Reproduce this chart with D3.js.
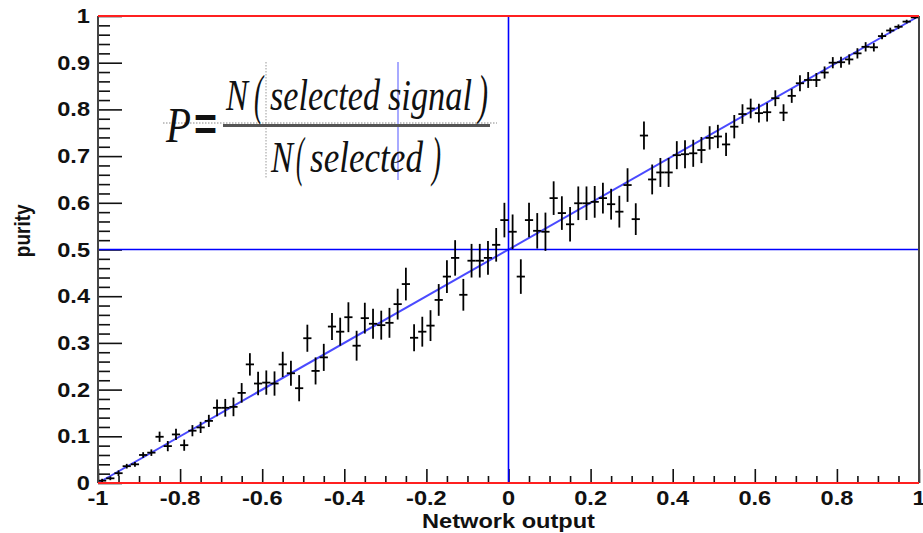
<!DOCTYPE html>
<html>
<head>
<meta charset="utf-8">
<script src="https://cdn.jsdelivr.net/npm/d3@7"></script>
<style>
  html, body { margin: 0; padding: 0; background: #fff; }
  svg { display: block; }
</style>
</head>
<body>
<svg id="chart" width="923" height="533"></svg>
<script>
// Bin centres of the network output histogram (100 bins over [-1, 1])
const binCenters = [
  -0.99, -0.97, -0.95, -0.93, -0.91, -0.89, -0.87, -0.85, -0.83, -0.81,
  -0.79, -0.77, -0.75, -0.73, -0.71, -0.69, -0.67, -0.65, -0.63, -0.61,
  -0.59, -0.57, -0.55, -0.53, -0.51, -0.49, -0.47, -0.45, -0.43, -0.41,
  -0.39, -0.37, -0.35, -0.33, -0.31, -0.29, -0.27, -0.25, -0.23, -0.21,
  -0.19, -0.17, -0.15, -0.13, -0.11, -0.09, -0.07, -0.05, -0.03, -0.01,
   0.01,  0.03,  0.05,  0.07,  0.09,  0.11,  0.13,  0.15,  0.17,  0.19,
   0.21,  0.23,  0.25,  0.27,  0.29,  0.31,  0.33,  0.35,  0.37,  0.39,
   0.41,  0.43,  0.45,  0.47,  0.49,  0.51,  0.53,  0.55,  0.57,  0.59,
   0.61,  0.63,  0.65,  0.67,  0.69,  0.71,  0.73,  0.75,  0.77,  0.79,
   0.81,  0.83,  0.85,  0.87,  0.89,  0.91,  0.93,  0.95,  0.97,  0.99
];
const binWidth = 0.02;

// Purity measured in each bin
const purity = [
  0.005, 0.010, 0.021, 0.036, 0.040, 0.060, 0.065, 0.099, 0.079, 0.104,
  0.081, 0.112, 0.119, 0.133, 0.161, 0.161, 0.163, 0.193, 0.254, 0.213,
  0.215, 0.213, 0.254, 0.235, 0.203, 0.310, 0.240, 0.269, 0.335, 0.324,
  0.355, 0.294, 0.353, 0.341, 0.338, 0.343, 0.383, 0.426, 0.311, 0.324,
  0.337, 0.392, 0.442, 0.482, 0.403, 0.476, 0.476, 0.482, 0.510, 0.563,
  0.538, 0.442, 0.563, 0.540, 0.538, 0.610, 0.578, 0.554, 0.599, 0.599,
  0.602, 0.610, 0.597, 0.581, 0.638, 0.565, 0.744, 0.650, 0.665, 0.665,
  0.702, 0.704, 0.706, 0.713, 0.739, 0.742, 0.725, 0.763, 0.790, 0.802,
  0.792, 0.794, 0.824, 0.793, 0.829, 0.856, 0.863, 0.863, 0.879, 0.900,
  0.901, 0.907, 0.920, 0.934, 0.933, 0.957, 0.969, 0.977, 0.988, 0.997
];

// Statistical uncertainty on the purity of each bin
const purityErr = [
  0.004, 0.004, 0.006, 0.005, 0.005, 0.006, 0.007, 0.011, 0.011, 0.012,
  0.012, 0.012, 0.012, 0.013, 0.018, 0.019, 0.020, 0.021, 0.024, 0.025,
  0.026, 0.026, 0.027, 0.027, 0.028, 0.029, 0.029, 0.029, 0.029, 0.030,
  0.032, 0.032, 0.033, 0.032, 0.031, 0.032, 0.033, 0.035, 0.029, 0.032,
  0.033, 0.034, 0.035, 0.038, 0.034, 0.036, 0.036, 0.036, 0.036, 0.037,
  0.037, 0.037, 0.037, 0.038, 0.041, 0.036, 0.036, 0.037, 0.036, 0.036,
  0.034, 0.033, 0.033, 0.034, 0.036, 0.034, 0.030, 0.032, 0.031, 0.031,
  0.030, 0.030, 0.029, 0.028, 0.025, 0.025, 0.025, 0.025, 0.021, 0.021,
  0.020, 0.020, 0.017, 0.018, 0.015, 0.017, 0.017, 0.015, 0.013, 0.012,
  0.012, 0.011, 0.011, 0.010, 0.009, 0.007, 0.006, 0.005, 0.004, 0.003
];

// Axis ticks and labels
const xMajorTicks = [-1, -0.8, -0.6, -0.4, -0.2, 0, 0.2, 0.4, 0.6, 0.8, 1];
const xTickLabels = ["-1", "-0.8", "-0.6", "-0.4", "-0.2", "0", "0.2", "0.4", "0.6", "0.8", "1"];
const xMinorStep = 0.05;
const yMajorTicks = [0, 0.1, 0.2, 0.3, 0.4, 0.5, 0.6, 0.7, 0.8, 0.9, 1];
const yTickLabels = ["0", "0.1", "0.2", "0.3", "0.4", "0.5", "0.6", "0.7", "0.8", "0.9", "1"];
const yMinorStep = 0.02;

// Reference lines: ideal purity diagonal, cut at output 0, purity 0.5
const diagonal = [[-1, 0], [1, 1]];
const cutX = 0;
const cutY = 0.5;

const xTitle = "Network output";
const yTitle = "purity";

// ---- layout ----
const svg = d3.select("#chart");
const W = 923, H = 533;
const margin = { left: 98, right: 4, top: 16, bottom: 50 };
const plotW = W - margin.left - margin.right;
const plotH = H - margin.top - margin.bottom;

const x = d3.scaleLinear().domain([-1, 1]).range([margin.left, margin.left + plotW]);
const y = d3.scaleLinear().domain([0, 1]).range([margin.top + plotH, margin.top]);

const labelFont = "'Liberation Sans', Arial, sans-serif";
const stretch = 1.18; // tick labels are drawn slightly wide

// ---- ticks (drawn inward) ----
const xMinor = d3.range(-1, 1.0001, xMinorStep).filter(v => !xMajorTicks.some(m => Math.abs(m - v) < 1e-6));
const yMinor = d3.range(0, 1.0001, yMinorStep).filter(v => !yMajorTicks.some(m => Math.abs(m - v) < 1e-6));

function styleTicks(g) {
  g.select(".domain").remove();
  g.selectAll(".tick line").attr("stroke", "#111").attr("stroke-width", 1.6);
  g.selectAll(".tick text").remove();
}

svg.append("g")
  .attr("transform", `translate(0,${y(0)})`)
  .call(d3.axisBottom(x).tickValues(xMinor).tickSize(-7).tickFormat(""))
  .call(styleTicks);
svg.append("g")
  .attr("transform", `translate(0,${y(0)})`)
  .call(d3.axisBottom(x).tickValues(xMajorTicks).tickSize(-14).tickFormat(""))
  .call(styleTicks);
svg.append("g")
  .attr("transform", `translate(${x(-1)},0)`)
  .call(d3.axisLeft(y).tickValues(yMinor).tickSize(-12).tickFormat(""))
  .call(styleTicks);
svg.append("g")
  .attr("transform", `translate(${x(-1)},0)`)
  .call(d3.axisLeft(y).tickValues(yMajorTicks).tickSize(-24).tickFormat(""))
  .call(styleTicks);

// ---- tick labels ----
svg.append("g").selectAll("text")
  .data(xMajorTicks)
  .join("text")
  .attr("transform", d => `translate(${x(d)},${y(0) + 22}) scale(${stretch},1)`)
  .attr("text-anchor", "middle")
  .attr("font-family", labelFont)
  .attr("font-weight", "bold")
  .attr("font-size", 20)
  .attr("fill", "#111")
  .text((d, i) => xTickLabels[i]);

svg.append("g").selectAll("text")
  .data(yMajorTicks)
  .join("text")
  .attr("transform", d => `translate(${x(-1) - 8},${y(d) + 7}) scale(${stretch},1)`)
  .attr("text-anchor", "end")
  .attr("font-family", labelFont)
  .attr("font-weight", "bold")
  .attr("font-size", 20)
  .attr("fill", "#111")
  .text((d, i) => yTickLabels[i]);

// ---- axis titles ----
svg.append("text")
  .attr("transform", `translate(${x(0)},${y(0) + 45}) scale(${stretch},1)`)
  .attr("text-anchor", "middle")
  .attr("font-family", labelFont)
  .attr("font-weight", "bold")
  .attr("font-size", 20)
  .attr("fill", "#111")
  .text(xTitle);

svg.append("text")
  .attr("transform", `translate(30,${y(0.54)}) rotate(-90) scale(1,${stretch})`)
  .attr("text-anchor", "middle")
  .attr("font-family", labelFont)
  .attr("font-weight", "bold")
  .attr("font-size", 19)
  .attr("fill", "#111")
  .text(yTitle);

// ---- reference lines ----
svg.append("line")
  .attr("x1", x(diagonal[0][0])).attr("y1", y(diagonal[0][1]))
  .attr("x2", x(diagonal[1][0])).attr("y2", y(diagonal[1][1]))
  .attr("stroke", "#4a4aff").attr("stroke-width", 2);

svg.append("line")
  .attr("x1", x(cutX)).attr("x2", x(cutX))
  .attr("y1", y(0)).attr("y2", y(1))
  .attr("stroke", "#0000ff").attr("stroke-width", 1.6);

svg.append("line")
  .attr("x1", x(-1)).attr("x2", x(1))
  .attr("y1", y(cutY)).attr("y2", y(cutY))
  .attr("stroke", "#0000ff").attr("stroke-width", 1.6);

// ---- data points with error bars ----
const points = binCenters.map((c, i) => ({ c, p: purity[i], e: purityErr[i] }));
const pts = svg.append("g").attr("stroke", "#000").attr("stroke-width", 1.8);
pts.selectAll("line.h")
  .data(points)
  .join("line")
  .attr("class", "h")
  .attr("x1", d => x(d.c - binWidth / 2))
  .attr("x2", d => x(d.c + binWidth / 2))
  .attr("y1", d => y(d.p))
  .attr("y2", d => y(d.p));
pts.selectAll("line.v")
  .data(points)
  .join("line")
  .attr("class", "v")
  .attr("x1", d => x(d.c))
  .attr("x2", d => x(d.c))
  .attr("y1", d => y(d.p - d.e))
  .attr("y2", d => y(d.p + d.e));

// ---- frame ----
const frame = svg.append("g");
frame.append("line")
  .attr("x1", x(-1)).attr("x2", x(-1)).attr("y1", y(0)).attr("y2", y(1))
  .attr("stroke", "#444").attr("stroke-width", 2);
frame.append("line")
  .attr("x1", x(1)).attr("x2", x(1)).attr("y1", y(0)).attr("y2", y(1))
  .attr("stroke", "#444").attr("stroke-width", 2);
frame.append("line")
  .attr("x1", x(-1)).attr("x2", x(1)).attr("y1", y(1)).attr("y2", y(1))
  .attr("stroke", "#ff2020").attr("stroke-width", 2);
frame.append("line")
  .attr("x1", x(-1)).attr("x2", x(1)).attr("y1", y(0)).attr("y2", y(0))
  .attr("stroke", "#ff2020").attr("stroke-width", 2);

// ---- purity definition ----
const eq = svg.append("g").attr("fill", "#111")
  .attr("font-family", "'Liberation Serif', 'Times New Roman', serif")
  .attr("font-style", "italic");

// construction guides of the formula
eq.append("line").attr("x1", 163).attr("x2", 497).attr("y1", 123).attr("y2", 123)
  .attr("stroke", "#888").attr("stroke-width", 1).attr("stroke-dasharray", "1.5,1.5");
eq.append("line").attr("x1", 266).attr("x2", 266).attr("y1", 62).attr("y2", 178)
  .attr("stroke", "#999").attr("stroke-width", 1).attr("stroke-dasharray", "1.5,1.5");
eq.append("line").attr("x1", 398).attr("x2", 398).attr("y1", 62).attr("y2", 180)
  .attr("stroke", "#a8aaff").attr("stroke-width", 2);

// fraction bar
eq.append("line").attr("x1", 223).attr("x2", 490).attr("y1", 125.5).attr("y2", 125.5)
  .attr("stroke", "#555").attr("stroke-width", 3);

function piece(txt, px, py, size, len, extra) {
  const t = eq.append("text")
    .attr("x", px).attr("y", py)
    .attr("font-size", size)
    .attr("textLength", len)
    .attr("lengthAdjust", "spacingAndGlyphs")
    .text(txt);
  if (extra) extra(t);
  return t;
}
piece("P", 166, 142, 50, 25);
piece("=", 194, 140, 46, 23, t => t.attr("font-style", "normal").attr("font-weight", "bold")
  .attr("font-family", "'Liberation Sans', Arial, sans-serif"));
// numerator
piece("N", 226, 110, 45, 22);
piece("(", 254, 113, 54, 9);
piece("selected", 270, 110, 45, 110);
piece("signal", 388, 110, 45, 84);
piece(")", 478, 113, 54, 10);
// denominator
piece("N", 271, 172, 45, 22);
piece("(", 296, 175, 54, 8);
piece("selected", 310, 172, 45, 113);
piece(")", 432, 175, 54, 9);
</script>
</body>
</html>
